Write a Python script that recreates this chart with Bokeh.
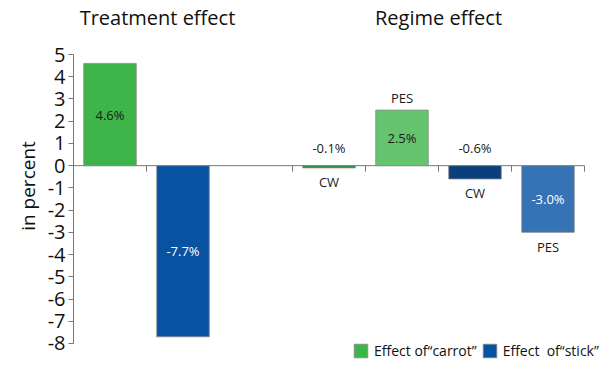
from bokeh.plotting import figure
from bokeh.models import (ColumnDataSource, FixedTicker, Range1d, Legend, LegendItem)
from bokeh.embed import file_html
from bokeh.resources import INLINE
from bokeh.core.properties import value

# ---- data ----
slots = [0.5, 1.5, 3.5, 4.5, 5.5, 6.5]
values = [4.6, -7.7, -0.1, 2.5, -0.6, -3.0]
value_labels = ["4.6%", "-7.7%", "-0.1%", "2.5%", "-0.6%", "-3.0%"]
regime_names = ["", "", "CW", "PES", "CW", "PES"]
bar_colors = ["#3db54a", "#0753a1", "#2b8c3b", "#66c46f", "#0a3f7b", "#3673b4"]
label_colors = ["#1a1a1a", "#ffffff", "#1a1a1a", "#1a1a1a", "#1a1a1a", "#ffffff"]
y_ticks = list(range(-8, 6))
x_ticks = [0, 1, 3, 4, 5, 6, 7]
section_titles = ["Treatment effect", "Regime effect"]
section_centers = [1.15, 5.0]
legend_labels = ["Effect of\u201ccarrot\u201d", "Effect  of\u201cstick\u201d"]

FONT = "Open Sans"
AXIS_C = "#777777"

# label positions derived from values
val_y = [0.8 if abs(v) < 1 else v / 2 for v in values]
name_y = [v + 0.55 if v > 0 else v - 0.65 for v in values]

src = ColumnDataSource(dict(x=slots, top=values, color=bar_colors,
                            lab=value_labels, lab_y=val_y, lab_c=label_colors,
                            name=regime_names, name_y=name_y))

y_lo, y_hi = min(y_ticks), max(y_ticks)
x_lo, x_hi = min(x_ticks), max(x_ticks)

p = figure(width=600, height=371, output_backend="svg", toolbar_location=None,
           x_range=Range1d(x_lo, x_hi + 0.219), y_range=Range1d(y_lo - 1.26, y_hi + 2.43),
           x_axis_location=None,
           min_border_left=73, min_border_right=0, min_border_top=0, min_border_bottom=0)
p.outline_line_color = None
p.xgrid.visible = False
p.ygrid.visible = False
p.background_fill_color = "white"

# zero line and its ticks
p.segment(x0=[x_lo], y0=[0], x1=[x_hi], y1=[0], line_color=AXIS_C, line_width=1)
p.segment(x0=x_ticks, y0=[0] * len(x_ticks), x1=x_ticks, y1=[-0.27] * len(x_ticks),
          line_color=AXIS_C, line_width=1)

bars = p.vbar(x="x", top="top", bottom=0, width=0.72, fill_color="color",
              line_color="#8a8a8a", line_width=0.8, source=src)

p.text(x="x", y="lab_y", text="lab", text_color="lab_c", text_align="center",
       text_baseline="middle", text_font=value(FONT), text_font_size="13px", source=src)
p.text(x="x", y="name_y", text="name", text_color="#1a1a1a", text_align="center",
       text_baseline="middle", text_font=value(FONT), text_font_size="13px", source=src)

# section titles
p.text(x=section_centers, y=[y_hi + 1.66] * 2, text=section_titles, text_color="#111111",
       text_align="center", text_baseline="middle", text_font=value(FONT),
       text_font_size="20px")

# y axis
ya = p.yaxis[0]
ya.ticker = FixedTicker(ticks=y_ticks)
ya.bounds = (y_lo, y_hi)
ya.major_label_overrides = {t: str(t) for t in y_ticks}
ya.axis_label = "in percent"
ya.axis_label_text_font = FONT
ya.axis_label_text_font_size = "19px"
ya.axis_label_text_font_style = "normal"
ya.axis_label_text_color = "#111111"
ya.axis_label_standoff = 4
ya.major_label_text_font = FONT
ya.major_label_text_font_size = "20px"
ya.major_label_text_color = "#111111"
ya.major_label_standoff = 3
ya.major_tick_in = 0
ya.major_tick_out = 5
ya.minor_tick_line_color = None
ya.axis_line_color = AXIS_C
ya.major_tick_line_color = AXIS_C

legend = Legend(items=[LegendItem(label=legend_labels[0], renderers=[bars], index=0),
                       LegendItem(label=legend_labels[1], renderers=[bars], index=1)],
                orientation="horizontal", location=(279, 11),
                border_line_color=None, background_fill_alpha=0,
                label_text_font=FONT, label_text_font_size="14px",
                label_text_color="#111111", glyph_width=17, glyph_height=17,
                spacing=4, padding=0, margin=0, label_standoff=5)
p.add_layout(legend, "center")

open("out.html", "w").write(file_html(p, INLINE))
